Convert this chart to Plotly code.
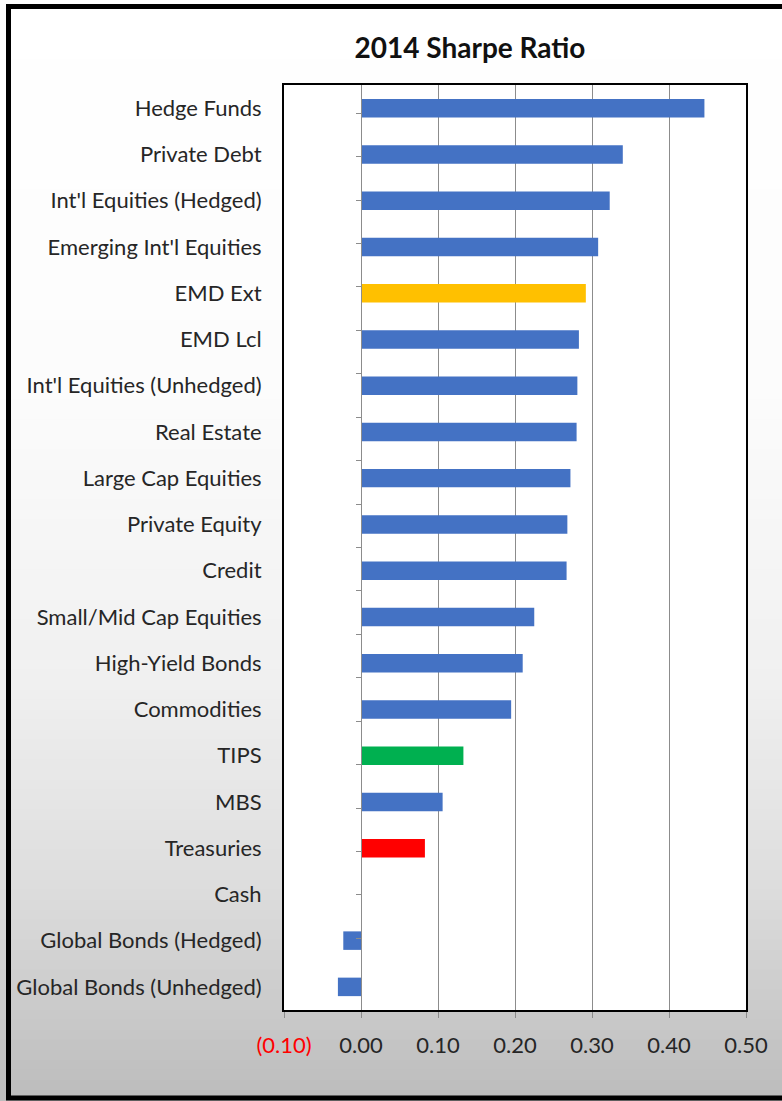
import plotly.graph_objects as go

W, H = 782, 1101

categories = [
    "Hedge Funds", "Private Debt", "Int'l Equities (Hedged)", "Emerging Int'l Equities",
    "EMD Ext", "EMD Lcl", "Int'l Equities (Unhedged)", "Real Estate",
    "Large Cap Equities", "Private Equity", "Credit", "Small/Mid Cap Equities",
    "High-Yield Bonds", "Commodities", "TIPS", "MBS", "Treasuries", "Cash",
    "Global Bonds (Hedged)", "Global Bonds (Unhedged)",
]
sharpe = [
    0.446, 0.340, 0.323, 0.308,
    0.292, 0.283, 0.281, 0.280,
    0.272, 0.268, 0.267, 0.225,
    0.210, 0.195, 0.133, 0.106, 0.083, 0.0,
    -0.023, -0.030,
]
highlight_colors = {"EMD Ext": "#FFC000", "TIPS": "#00B050", "Treasuries": "#FF0000"}
x_tick_values = [-0.10, 0.00, 0.10, 0.20, 0.30, 0.40, 0.50]
x_tick_labels = ["(0.10)", "0.00", "0.10", "0.20", "0.30", "0.40", "0.50"]

BASE_BLUE = "#4472C4"
FONT = "Lato"

bar_colors = [highlight_colors.get(c, BASE_BLUE) for c in categories]
tick_text = [
    f'<span style="color:#FF0000">{t}</span>' if v < 0 else t
    for v, t in zip(x_tick_values, x_tick_labels)
]

# plot area in page pixels -> paper fractions (margins are zero)
px_left, px_right, px_top, px_bottom = 284, 746, 85, 1010
x_dom = [px_left / W, px_right / W]
y_dom = [1 - px_bottom / H, 1 - px_top / H]
zero_pos = x_dom[0] + (x_dom[1] - x_dom[0]) * (0 - x_tick_values[0]) / (x_tick_values[-1] - x_tick_values[0])

fig = go.Figure()
fig.add_trace(go.Bar(
    x=sharpe, y=categories, orientation="h",
    marker=dict(color=bar_colors, line=dict(width=0)),
    width=0.4, hoverinfo="x+y",
))
# invisible companion trace that carries the category axis drawn at zero
fig.add_trace(go.Scatter(
    x=[0] * len(categories), y=categories, yaxis="y2",
    mode="markers", marker=dict(opacity=0), showlegend=False, hoverinfo="skip",
))

# soft vertical background gradient
def grey_at(t):
    stops = [(0.0, 255), (0.35, 252), (0.62, 240), (0.80, 222), (0.90, 205), (1.0, 188)]
    for (t0, v0), (t1, v1) in zip(stops, stops[1:]):
        if t <= t1:
            v = v0 + (v1 - v0) * (t - t0) / (t1 - t0)
            return int(round(v))
    return stops[-1][1]

shapes = []
n_strips = 110
for i in range(n_strips):
    t0 = i / n_strips
    t1 = (i + 1) / n_strips
    g = grey_at((t0 + t1) / 2)
    shapes.append(dict(
        type="rect", xref="paper", yref="paper", layer="below",
        x0=-0.01, x1=1.01, y0=1 - t1 - 0.001, y1=1 - t0 + 0.001,
        fillcolor=f"rgb({g},{g},{g})", line=dict(width=0),
    ))
# white plot area
shapes.append(dict(
    type="rect", xref="paper", yref="paper", layer="below",
    x0=x_dom[0], x1=x_dom[1], y0=y_dom[0], y1=y_dom[1],
    fillcolor="white", line=dict(width=0),
))
# outer black frame
shapes.append(dict(
    type="rect", xref="paper", yref="paper", layer="above",
    x0=8.5 / W, x1=1.05, y0=1 - 1098 / H, y1=1 - 6.5 / H,
    fillcolor="rgba(0,0,0,0)", line=dict(color="black", width=5),
))

fig.update_layout(
    width=W, height=H,
    margin=dict(l=0, r=0, t=0, b=0),
    paper_bgcolor="white", plot_bgcolor="rgba(0,0,0,0)",
    showlegend=False,
    bargap=0.6,
    font=dict(family=FONT, color="#262626"),
    title=dict(
        text="<b>2014 Sharpe Ratio</b>", x=470 / W, xanchor="center",
        y=1 - 48 / H, yanchor="middle",
        font=dict(family=FONT, size=28, color="#111111"),
    ),
    xaxis=dict(
        domain=x_dom, range=[x_tick_values[0], x_tick_values[-1]],
        tickvals=x_tick_values, ticktext=tick_text,
        showgrid=True, gridcolor="#8C8C8C", gridwidth=1,
        zeroline=False,
        showline=True, linecolor="black", linewidth=2, mirror=True,
        ticks="outside", ticklen=6, tickcolor="#8C8C8C", tickwidth=1,
        ticklabelstandoff=9,
        tickfont=dict(family=FONT, size=22, color="#262626"),
        automargin=False, fixedrange=True,
    ),
    yaxis=dict(
        domain=y_dom, type="category",
        categoryorder="array", categoryarray=categories,
        autorange="reversed",
        showgrid=False, zeroline=False,
        showline=True, linecolor="black", linewidth=2, mirror=True,
        ticks="", ticklabelstandoff=16,
        tickfont=dict(family=FONT, size=22, color="#262626"),
        automargin=False, fixedrange=True,
    ),
    yaxis2=dict(
        overlaying="y", anchor="free", position=zero_pos, side="left",
        type="category", categoryorder="array", categoryarray=categories,
        autorange="reversed",
        showgrid=False, zeroline=False,
        showline=True, linecolor="#8C8C8C", linewidth=1,
        ticks="outside", tickson="boundaries", ticklen=5, tickcolor="#8C8C8C",
        showticklabels=False, automargin=False, fixedrange=True,
    ),
    shapes=shapes,
)

fig.write_html("out.html")
